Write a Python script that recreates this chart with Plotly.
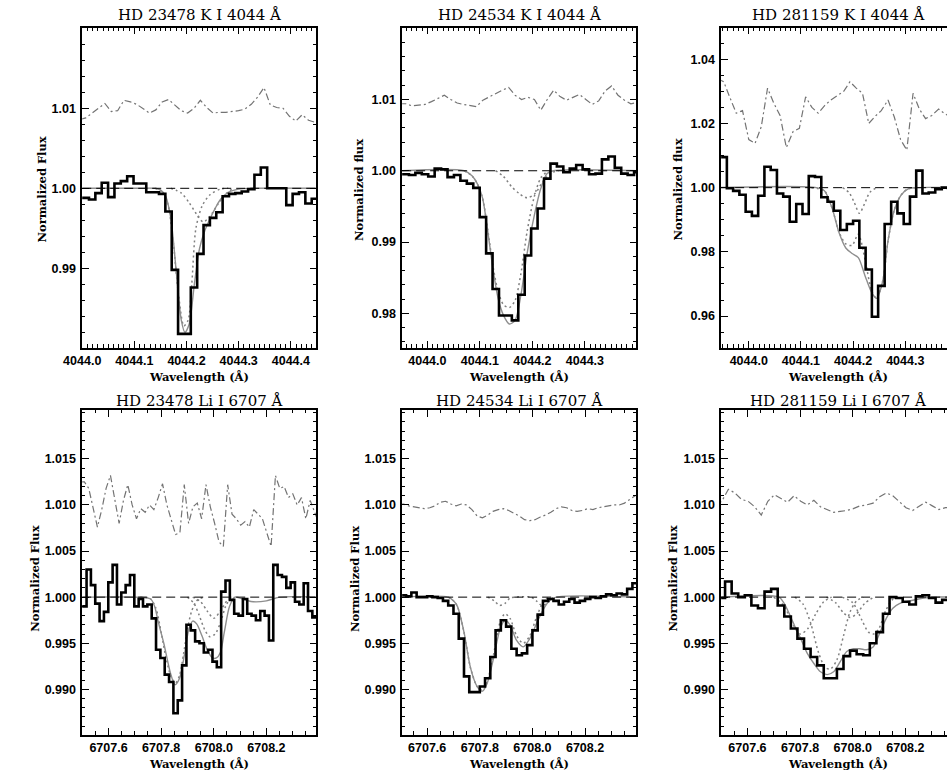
import plotly.graph_objects as go

W, H = 947, 771
CONTINUUM = 1.0

# ---------------- HD 23478, K I 4044 ----------------
P1_WAVE = [4043.9947, 4044.0069, 4044.0191, 4044.0313, 4044.0435, 4044.0557, 4044.0679, 4044.0801, 4044.0923, 4044.1045,
           4044.1167, 4044.1289, 4044.1411, 4044.1533, 4044.1655, 4044.1777, 4044.1899, 4044.2021, 4044.2143, 4044.2265,
           4044.2387, 4044.2509, 4044.2631, 4044.2753, 4044.2875, 4044.2997, 4044.3119, 4044.3241, 4044.3363, 4044.3485,
           4044.3607, 4044.3729, 4044.3851, 4044.3973, 4044.4095, 4044.4217, 4044.4339, 4044.4461, 4044.4583]
P1_FLUX = [0.9988, 0.9988, 0.9986, 0.9994, 1.0007, 0.9989, 1.0006, 1.0009, 1.0015, 1.0006,
           1.0006, 0.9995, 0.9995, 0.9993, 0.9971, 0.9898, 0.9818, 0.9818, 0.9876, 0.9918,
           0.9954, 0.9963, 0.9970, 0.9990, 0.9993, 0.9994, 0.9996, 0.9999, 1.0017, 1.0026,
           1.0000, 1.0000, 1.0000, 0.9979, 0.9993, 0.9995, 0.9981, 0.9987, 0.9987]
P1_RESID = [1.0086, 1.0088, 1.0094, 1.0100, 1.0106, 1.0096, 1.0097, 1.0110, 1.0108, 1.0105,
            1.0100, 1.0094, 1.0098, 1.0108, 1.0111, 1.0104, 1.0097, 1.0094, 1.0100, 1.0110,
            1.0101, 1.0094, 1.0095, 1.0095, 1.0096, 1.0097, 1.0099, 1.0105, 1.0114, 1.0126,
            1.0104, 1.0101, 1.0100, 1.0090, 1.0084, 1.0092, 1.0085, 1.0082, 1.0080]
P1_FIT_WAVE = [4044.00, 4044.10, 4044.14, 4044.15, 4044.16, 4044.17, 4044.18, 4044.19, 4044.197, 4044.205,
               4044.215, 4044.225, 4044.235, 4044.245, 4044.255, 4044.265, 4044.28, 4044.30, 4044.33, 4044.45]
P1_FIT = [1.0, 1.0, 1.0, 0.9998, 0.9990, 0.9962, 0.9898, 0.9835, 0.9820, 0.9830,
          0.9880, 0.9925, 0.9947, 0.9962, 0.9975, 0.9986, 0.9995, 0.9999, 1.0, 1.0]
P1_C1_WAVE = [4044.14, 4044.155, 4044.165, 4044.175, 4044.185, 4044.195, 4044.203, 4044.21, 4044.218, 4044.23,
              4044.245, 4044.265, 4044.28]
P1_C1 = [1.0, 0.9995, 0.9978, 0.9930, 0.9865, 0.9828, 0.9835, 0.9880, 0.9950, 0.9978, 0.9992, 0.9999, 1.0]
P1_C2_WAVE = [4044.17, 4044.19, 4044.205, 4044.219, 4044.232, 4044.245, 4044.26, 4044.275, 4044.29]
P1_C2 = [1.0, 0.9994, 0.9982, 0.9968, 0.9958, 0.9965, 0.9980, 0.9993, 1.0]

# ---------------- HD 24534, K I 4044 ----------------
P2_WAVE = [4043.9465, 4043.9588, 4043.9710, 4043.9833, 4043.9955, 4044.0078, 4044.0200, 4044.0323, 4044.0445, 4044.0568,
           4044.0690, 4044.0813, 4044.0935, 4044.1058, 4044.1180, 4044.1303, 4044.1425, 4044.1548, 4044.1670, 4044.1793,
           4044.1915, 4044.2038, 4044.2160, 4044.2283, 4044.2405, 4044.2528, 4044.2650, 4044.2773, 4044.2895, 4044.3018,
           4044.3140, 4044.3263, 4044.3385, 4044.3508, 4044.3630, 4044.3753, 4044.3875, 4044.3998, 4044.4120]
P2_FLUX = [0.9995, 0.9995, 0.9994, 0.9997, 0.9995, 0.9992, 1.0003, 1.0002, 0.9991, 0.9994,
           0.9986, 0.9982, 0.9976, 0.9935, 0.9884, 0.9834, 0.9797, 0.9797, 0.9790, 0.9826,
           0.9881, 0.9919, 0.9947, 0.9989, 1.0010, 1.0006, 0.9998, 1.0003, 1.0008, 1.0002,
           0.9995, 0.9996, 1.0016, 1.0020, 1.0004, 0.9996, 0.9994, 0.9998, 0.9998]
P2_RESID = [1.0094, 1.0094, 1.0091, 1.0092, 1.0093, 1.0097, 1.0102, 1.0106, 1.0100, 1.0095,
            1.0093, 1.0091, 1.0090, 1.0099, 1.0104, 1.0108, 1.0113, 1.0117, 1.0106, 1.0100,
            1.0103, 1.0100, 1.0085, 1.0100, 1.0113, 1.0104, 1.0099, 1.0103, 1.0107, 1.0100,
            1.0093, 1.0098, 1.0112, 1.0119, 1.0106, 1.0099, 1.0094, 1.0096, 1.0095]
P2_FIT_WAVE = [4043.95, 4044.07, 4044.085, 4044.095, 4044.105, 4044.115, 4044.125, 4044.135, 4044.145, 4044.156,
               4044.167, 4044.178, 4044.19, 4044.203, 4044.216, 4044.228, 4044.24, 4044.40]
P2_FIT = [1.0, 1.0, 0.9993, 0.9982, 0.9962, 0.9915, 0.9862, 0.9820, 0.9797, 0.9785,
          0.9790, 0.9825, 0.9884, 0.9935, 0.9975, 0.9996, 1.0, 1.0]
P2_C1_WAVE = [4044.07, 4044.085, 4044.095, 4044.105, 4044.115, 4044.125, 4044.135, 4044.145, 4044.156, 4044.167,
              4044.178, 4044.19, 4044.203, 4044.216, 4044.23]
P2_C1 = [1.0, 0.9993, 0.9982, 0.9962, 0.9917, 0.9866, 0.9830, 0.9812, 0.9808, 0.9818,
         0.9855, 0.9915, 0.9962, 0.9990, 1.0]
P2_C2_WAVE = [4044.13, 4044.145, 4044.16, 4044.175, 4044.19, 4044.205, 4044.22, 4044.235, 4044.25]
P2_C2 = [1.0, 0.9992, 0.9978, 0.9968, 0.9962, 0.9968, 0.9985, 0.9997, 1.0]

# ---------------- HD 281159, K I 4044 ----------------
P3_WAVE = [4043.940, 4043.952, 4043.964, 4043.976, 4043.988, 4044.000, 4044.012, 4044.024, 4044.036, 4044.048,
           4044.060, 4044.072, 4044.085, 4044.097, 4044.109, 4044.121, 4044.133, 4044.145, 4044.157, 4044.169,
           4044.182, 4044.194, 4044.206, 4044.218, 4044.230, 4044.242, 4044.254, 4044.267, 4044.279, 4044.291,
           4044.303, 4044.315, 4044.327, 4044.339, 4044.351, 4044.364, 4044.376, 4044.388]
P3_FLUX = [1.0095, 1.0095, 0.9998, 0.9990, 0.9978, 0.9925, 0.9912, 0.9975, 1.0065, 1.0055,
           0.9982, 0.9972, 0.9894, 0.9949, 0.9918, 1.0036, 1.0033, 0.9970, 0.9956, 0.9928,
           0.9868, 0.9887, 0.9897, 0.9813, 0.9745, 0.9598, 0.9694, 0.9887, 0.9956, 0.9920,
           0.9887, 0.9972, 1.0053, 0.9982, 0.9985, 0.9995, 1.0000, 0.9998]
P3_RESID = [1.0340, 1.0330, 1.0280, 1.0232, 1.0240, 1.0150, 1.0138, 1.0190, 1.0310, 1.0263,
            1.0225, 1.0125, 1.0175, 1.0185, 1.0283, 1.0250, 1.0232, 1.0255, 1.0273, 1.0285,
            1.0300, 1.0330, 1.0310, 1.0294, 1.0200, 1.0222, 1.0240, 1.0273, 1.0220, 1.0150,
            1.0117, 1.0294, 1.0245, 1.0215, 1.0225, 1.0245, 1.0230, 1.0220]
P3_FIT_WAVE = [4043.94, 4044.13, 4044.145, 4044.16, 4044.173, 4044.186, 4044.198, 4044.21, 4044.223, 4044.236,
               4044.245, 4044.257, 4044.267, 4044.279, 4044.292, 4044.304, 4044.32, 4044.40]
P3_FIT = [1.0, 1.0, 0.9990, 0.9935, 0.9860, 0.9812, 0.9795, 0.9782, 0.9725, 0.9672,
          0.9655, 0.9710, 0.9835, 0.9930, 0.9977, 0.9995, 1.0, 1.0]
P3_C1_WAVE = [4044.12, 4044.145, 4044.16, 4044.173, 4044.186, 4044.198, 4044.21, 4044.223, 4044.236, 4044.245,
              4044.257, 4044.267, 4044.279, 4044.292, 4044.304, 4044.32]
P3_C1 = [1.0, 0.9990, 0.9935, 0.9862, 0.9825, 0.9820, 0.9855, 0.9775, 0.9676, 0.9656,
         0.9710, 0.9835, 0.9930, 0.9977, 0.9995, 1.0]
P3_C2_WAVE = [4044.18, 4044.192, 4044.202, 4044.212, 4044.222, 4044.232, 4044.245]
P3_C2 = [1.0, 0.9985, 0.9955, 0.9920, 0.9950, 0.9985, 1.0]

# ---------------- HD 23478, Li I 6707 ----------------
P4_WAVE = [6707.4918, 6707.5083, 6707.5248, 6707.5413, 6707.5578, 6707.5743, 6707.5908, 6707.6073, 6707.6238, 6707.6403,
           6707.6568, 6707.6733, 6707.6898, 6707.7063, 6707.7228, 6707.7393, 6707.7558, 6707.7723, 6707.7888, 6707.8053,
           6707.8218, 6707.8383, 6707.8548, 6707.8713, 6707.8878, 6707.9043, 6707.9208, 6707.9373, 6707.9538, 6707.9703,
           6707.9868, 6708.0033, 6708.0198, 6708.0363, 6708.0528, 6708.0693, 6708.0858, 6708.1023, 6708.1188, 6708.1353,
           6708.1518, 6708.1683, 6708.1848, 6708.2013, 6708.2178, 6708.2343, 6708.2508, 6708.2673, 6708.2838, 6708.3003,
           6708.3168, 6708.3333, 6708.3498, 6708.3663, 6708.3828, 6708.3993, 6708.4158]
P4_FLUX = [0.9990, 0.9990, 1.0030, 1.0013, 0.9993, 0.9974, 0.9984, 1.0016, 1.0035, 0.9992,
           1.0005, 1.0013, 1.0024, 0.9990, 0.9998, 0.9990, 0.9992, 0.9977, 0.9943, 0.9934,
           0.9916, 0.9908, 0.9874, 0.9888, 0.9926, 0.9970, 0.9964, 0.9952, 0.9950, 0.9940,
           0.9943, 0.9930, 0.9924, 1.0006, 1.0018, 0.9997, 0.9982, 0.9980, 0.9998, 0.9982,
           0.9980, 0.9975, 0.9985, 0.9980, 0.9953, 1.0035, 1.0024, 1.0022, 1.0010, 1.0016,
           0.9995, 0.9992, 1.0015, 0.9985, 0.9978, 0.9978, 0.9978]
P4_RESID = [1.0125, 1.0125, 1.0118, 1.0095, 1.0076, 1.0095, 1.0118, 1.0132, 1.0105, 1.0080,
            1.0105, 1.0122, 1.0100, 1.0085, 1.0096, 1.0092, 1.0100, 1.0095, 1.0108, 1.0123,
            1.0100, 1.0085, 1.0068, 1.0070, 1.0122, 1.0080, 1.0098, 1.0102, 1.0085, 1.0122,
            1.0098, 1.0080, 1.0060, 1.0055, 1.0122, 1.0090, 1.0085, 1.0078, 1.0082, 1.0076,
            1.0095, 1.0090, 1.0085, 1.0070, 1.0055, 1.0132, 1.0118, 1.0120, 1.0108, 1.0112,
            1.0100, 1.0108, 1.0085, 1.0105, 1.0092, 1.0080, 1.0080]
P4_FIT_WAVE = [6707.50, 6707.70, 6707.76, 6707.775, 6707.79, 6707.81, 6707.835, 6707.8525, 6707.87, 6707.89,
               6707.905, 6707.92, 6707.935, 6707.955, 6707.975, 6707.995, 6708.01, 6708.025, 6708.04, 6708.06,
               6708.08, 6708.12, 6708.15, 6708.20, 6708.25, 6708.40]
P4_FIT = [1.0, 1.0, 0.9998, 0.9990, 0.9972, 0.9950, 0.9918, 0.9905, 0.9912, 0.9940,
          0.9965, 0.9974, 0.9971, 0.9958, 0.9943, 0.9934, 0.9934, 0.9940, 0.9962, 0.9990,
          1.0, 0.9997, 0.9995, 0.9996, 1.0, 1.0]
P4_C1_WAVE = [6707.72, 6707.76, 6707.78, 6707.80, 6707.82, 6707.84, 6707.855, 6707.87, 6707.885, 6707.90,
              6707.915, 6707.935, 6707.96]
P4_C1 = [1.0, 0.9998, 0.9988, 0.9962, 0.9932, 0.9912, 0.9907, 0.9915, 0.9938, 0.9965, 0.9984, 0.9996, 1.0]
P4_C2_WAVE = [6707.90, 6707.925, 6707.945, 6707.965, 6707.985, 6708.005, 6708.025, 6708.045, 6708.065]
P4_C2 = [1.0, 0.9993, 0.9980, 0.9965, 0.9957, 0.9960, 0.9972, 0.9990, 1.0]
P4_C3_WAVE = [6707.92, 6707.95, 6707.975, 6708.0, 6708.025, 6708.05, 6708.075]
P4_C3 = [1.0, 0.9995, 0.9985, 0.9977, 0.9985, 0.9996, 1.0]

# ---------------- HD 24534, Li I 6707 ----------------
P5_WAVE = [6707.49, 6707.51, 6707.53, 6707.55, 6707.57, 6707.59, 6707.61, 6707.63, 6707.65, 6707.67,
           6707.69, 6707.71, 6707.73, 6707.75, 6707.77, 6707.79, 6707.81, 6707.83, 6707.85, 6707.87,
           6707.89, 6707.91, 6707.93, 6707.95, 6707.97, 6707.99, 6708.01, 6708.03, 6708.05, 6708.07,
           6708.09, 6708.11, 6708.13, 6708.15, 6708.17, 6708.19, 6708.21, 6708.23, 6708.25, 6708.27,
           6708.29, 6708.31, 6708.33, 6708.35, 6708.37, 6708.39, 6708.41]
P5_FLUX = [1.0002, 1.0002, 1.0001, 1.0005, 1.0000, 1.0000, 1.0001, 1.0000, 0.9999, 0.9996,
           0.9991, 0.9982, 0.9955, 0.9914, 0.9897, 0.9897, 0.9903, 0.9912, 0.9935, 0.9964,
           0.9975, 0.9968, 0.9944, 0.9937, 0.9939, 0.9948, 0.9964, 0.9981, 0.9996, 0.9998,
           0.9996, 0.9992, 0.9995, 0.9998, 0.9994, 0.9996, 0.9998, 1.0000, 0.9999, 1.0001,
           1.0003, 1.0002, 1.0004, 1.0003, 1.0009, 1.0015, 1.0015]
P5_RESID = [1.0101, 1.0101, 1.0099, 1.0098, 1.0097, 1.0096, 1.0097, 1.0099, 1.0103, 1.0104,
            1.0101, 1.0099, 1.0101, 1.0100, 1.0095, 1.0088, 1.0086, 1.0089, 1.0093, 1.0095,
            1.0096, 1.0094, 1.0091, 1.0088, 1.0084, 1.0083, 1.0084, 1.0087, 1.0089, 1.0092,
            1.0096, 1.0098, 1.0097, 1.0094, 1.0093, 1.0094, 1.0096, 1.0095, 1.0097, 1.0098,
            1.0099, 1.0100, 1.0100, 1.0102, 1.0106, 1.0110, 1.0112]
P5_FIT_WAVE = [6707.50, 6707.68, 6707.70, 6707.715, 6707.74, 6707.765, 6707.79, 6707.81, 6707.8275, 6707.8525,
               6707.8775, 6707.896, 6707.915, 6707.94, 6707.965, 6707.99, 6708.015, 6708.04, 6708.065, 6708.09,
               6708.40]
P5_FIT = [1.0, 1.0, 0.9996, 0.9990, 0.9962, 0.9923, 0.9903, 0.9898, 0.9906, 0.9934,
          0.9966, 0.9975, 0.9970, 0.9953, 0.9946, 0.9955, 0.9971, 0.9986, 0.9996, 1.0,
          1.0]
P5_C1_WAVE = [6707.68, 6707.70, 6707.715, 6707.74, 6707.765, 6707.79, 6707.81, 6707.8275, 6707.8525, 6707.8775,
              6707.896, 6707.915, 6707.94, 6707.965, 6707.99, 6708.015, 6708.04, 6708.06]
P5_C1 = [1.0, 0.9996, 0.9990, 0.9962, 0.9923, 0.9903, 0.9899, 0.9908, 0.9938, 0.9973,
         0.9982, 0.9977, 0.9958, 0.9950, 0.9958, 0.9978, 0.9994, 1.0]
P5_C2_WAVE = [6707.83, 6707.855, 6707.875, 6707.895, 6707.915, 6707.935, 6707.995, 6708.015, 6708.035, 6708.055,
              6708.075, 6708.09]
P5_C2 = [1.0, 0.9996, 0.9991, 0.9993, 0.9999, 1.0, 1.0, 0.9996, 0.9991, 0.9993, 0.9999, 1.0]

# ---------------- HD 281159, Li I 6707 ----------------
P6_WAVE = [6707.4775, 6707.5025, 6707.5275, 6707.5525, 6707.5775, 6707.6025, 6707.6275, 6707.6525, 6707.6775, 6707.7025,
           6707.7275, 6707.7525, 6707.7775, 6707.8025, 6707.8275, 6707.8525, 6707.8775, 6707.9025, 6707.9275, 6707.9525,
           6707.9775, 6708.0025, 6708.0275, 6708.0525, 6708.0775, 6708.1025, 6708.1275, 6708.1525, 6708.1775, 6708.2025,
           6708.2275, 6708.2525, 6708.2775, 6708.3025, 6708.3275, 6708.3525, 6708.3775]
P6_FLUX = [0.9999, 0.9999, 1.0017, 1.0004, 1.0000, 1.0002, 0.9991, 0.9988, 1.0006, 1.0009,
           0.9991, 0.9979, 0.9966, 0.9955, 0.9944, 0.9935, 0.9926, 0.9912, 0.9912, 0.9922,
           0.9936, 0.9942, 0.9938, 0.9937, 0.9950, 0.9962, 0.9982, 1.0000, 0.9999, 0.9995,
           0.9992, 1.0001, 1.0002, 0.9999, 0.9994, 0.9997, 0.9997]
P6_RESID = [1.0100, 1.0104, 1.0117, 1.0113, 1.0106, 1.0104, 1.0098, 1.0089, 1.0104, 1.0111,
            1.0107, 1.0103, 1.0110, 1.0104, 1.0100, 1.0105, 1.0098, 1.0095, 1.0092, 1.0093,
            1.0094, 1.0096, 1.0099, 1.0100, 1.0102, 1.0109, 1.0113, 1.0110, 1.0104, 1.0097,
            1.0094, 1.0099, 1.0103, 1.0099, 1.0095, 1.0097, 1.0097]
P6_FIT_WAVE = [6707.50, 6707.72, 6707.74, 6707.7525, 6707.7775, 6707.8025, 6707.8275, 6707.8525, 6707.8775, 6707.9025,
               6707.9275, 6707.9525, 6707.9775, 6708.0025, 6708.0275, 6708.0525, 6708.0775, 6708.1025, 6708.1275, 6708.1525,
               6708.1775, 6708.2025, 6708.25, 6708.30, 6708.40]
P6_FIT = [1.0, 1.0, 0.9993, 0.9986, 0.9970, 0.9955, 0.9939, 0.9928, 0.9919, 0.9916,
          0.9919, 0.9930, 0.9941, 0.9944, 0.9944, 0.9943, 0.9946, 0.9961, 0.9977, 0.9988,
          0.9993, 0.9995, 0.9998, 1.0, 1.0]
P6_C1_WAVE = [6707.70, 6707.74, 6707.77, 6707.80, 6707.83, 6707.86, 6707.89, 6707.92]
P6_C1 = [1.0, 0.9990, 0.9972, 0.9960, 0.9966, 0.9982, 0.9995, 1.0]
P6_C2_WAVE = [6707.78, 6707.81, 6707.84, 6707.87, 6707.895, 6707.915, 6707.94, 6707.965, 6707.99, 6708.015, 6708.04]
P6_C2 = [1.0, 0.9993, 0.9972, 0.9940, 0.9924, 0.9922, 0.9932, 0.9958, 0.9984, 0.9996, 1.0]
P6_C3_WAVE = [6707.90, 6707.935, 6707.965, 6707.99, 6708.015, 6708.045, 6708.08]
P6_C3 = [1.0, 0.9994, 0.9983, 0.9978, 0.9982, 0.9993, 1.0]
P6_C4_WAVE = [6707.96, 6708.0, 6708.035, 6708.06, 6708.08, 6708.10, 6708.125, 6708.15, 6708.17]
P6_C4 = [1.0, 0.9994, 0.9975, 0.9962, 0.9960, 0.9966, 0.9985, 0.9997, 1.0]

TITLES = ["HD 23478 K I 4044 Å", "HD 24534 K I 4044 Å", "HD 281159 K I 4044 Å",
          "HD 23478 Li I 6707 Å", "HD 24534 Li I 6707 Å", "HD 281159 Li I 6707 Å"]
YLABELS = ["Normalized Flux", "Normalized flux", "Normalized flux",
           "Normalized Flux", "Normalized Flux", "Normalized Flux"]
XLABEL = "Wavelength (Å)"

# axis limits of the full (uncropped) panels
X_RANGES = [[4044.0, 4044.449], [4043.952, 4044.398], [4043.947, 4044.396],
            [6707.5, 6708.39], [6707.505, 6708.395], [6707.5, 6708.39]]
Y_RANGES = [[0.9801, 1.0201], [0.9752, 1.0201], [0.9502, 1.0499],
            [0.9851, 1.0203], [0.9851, 1.0203], [0.9851, 1.0203]]

K_TICKS = [4044.0, 4044.1, 4044.2, 4044.3, 4044.4]
LI_TICKS = [6707.6, 6707.8, 6708.0, 6708.2]
X_TICKS = [K_TICKS, K_TICKS[:4], K_TICKS[:4], LI_TICKS, LI_TICKS, LI_TICKS]
LI_FLUX_TICKS = [0.990, 0.995, 1.000, 1.005, 1.010, 1.015]
Y_TICKS = [[0.99, 1.00, 1.01], [0.98, 0.99, 1.00, 1.01], [0.96, 0.98, 1.00, 1.02, 1.04],
           LI_FLUX_TICKS, LI_FLUX_TICKS, LI_FLUX_TICKS]

PANELS = [
    dict(wave=P1_WAVE, flux=P1_FLUX, resid=P1_RESID, fit=(P1_FIT_WAVE, P1_FIT),
         comps=[(P1_C1_WAVE, P1_C1), (P1_C2_WAVE, P1_C2)]),
    dict(wave=P2_WAVE, flux=P2_FLUX, resid=P2_RESID, fit=(P2_FIT_WAVE, P2_FIT),
         comps=[(P2_C1_WAVE, P2_C1), (P2_C2_WAVE, P2_C2)]),
    dict(wave=P3_WAVE, flux=P3_FLUX, resid=P3_RESID, fit=(P3_FIT_WAVE, P3_FIT),
         comps=[(P3_C1_WAVE, P3_C1), (P3_C2_WAVE, P3_C2)]),
    dict(wave=P4_WAVE, flux=P4_FLUX, resid=P4_RESID, fit=(P4_FIT_WAVE, P4_FIT),
         comps=[(P4_C1_WAVE, P4_C1), (P4_C2_WAVE, P4_C2), (P4_C3_WAVE, P4_C3)]),
    dict(wave=P5_WAVE, flux=P5_FLUX, resid=P5_RESID, fit=(P5_FIT_WAVE, P5_FIT),
         comps=[(P5_C1_WAVE, P5_C1), (P5_C2_WAVE, P5_C2)]),
    dict(wave=P6_WAVE, flux=P6_FLUX, resid=P6_RESID, fit=(P6_FIT_WAVE, P6_FIT),
         comps=[(P6_C1_WAVE, P6_C1), (P6_C2_WAVE, P6_C2), (P6_C3_WAVE, P6_C3), (P6_C4_WAVE, P6_C4)]),
]

# frame boxes in pixels: left/right per column, top/bottom per row
COL_X = [(64.5, 303.5), (391, 630), (716.5, 955.5)]
ROW_Y = [(27.5, 347.5), (410, 734.5)]

TICK_FONT = dict(family="Liberation Sans", size=12.5, color="black", weight="bold")
TITLE_FONT = dict(family="DejaVu Serif", size=15, color="black")
LABEL_FONT = dict(family="DejaVu Serif", size=11.5, color="black", weight="bold")

GRAY_FIT = "#8e8e8e"
GRAY_COMP = "#808080"
GRAY_RESID = "#737373"

fig = go.Figure()
annotations = []
shapes = []

for i, p in enumerate(PANELS):
    n = i + 1
    row, col = divmod(i, 3)
    left, right = COL_X[col]
    top, bottom = ROW_Y[row]
    x0, x1 = X_RANGES[i]
    vis = (min(right, W) - left) / (right - left)
    x1_vis = x0 + (x1 - x0) * vis
    sfx = "" if n == 1 else str(n)
    xa, ya = "x" + sfx, "y" + sfx

    fig.add_trace(go.Scatter(x=p["wave"], y=p["resid"], mode="lines", xaxis=xa, yaxis=ya,
                             line=dict(color=GRAY_RESID, width=1.2, dash="7px,3px,2px,3px")))
    for cw, cf in p["comps"]:
        fig.add_trace(go.Scatter(x=cw, y=cf, mode="lines", xaxis=xa, yaxis=ya,
                                 line=dict(color=GRAY_COMP, width=1.5, dash="2px,3px",
                                           shape="spline", smoothing=0.8)))
    fw, ff = p["fit"]
    fig.add_trace(go.Scatter(x=fw, y=ff, mode="lines", xaxis=xa, yaxis=ya,
                             line=dict(color=GRAY_FIT, width=1.4, shape="spline", smoothing=0.8)))
    fig.add_trace(go.Scatter(x=p["wave"], y=p["flux"], mode="lines", xaxis=xa, yaxis=ya,
                             line=dict(color="black", width=2.6, shape="hvh")))

    shapes.append(dict(type="line", xref=f"{xa} domain", yref=ya, x0=0, x1=1,
                       y0=CONTINUUM, y1=CONTINUUM, layer="above",
                       line=dict(color="black", width=1, dash="9px,5px")))

    top_row = row == 0
    xaxis = dict(domain=[left / W, min(right, W) / W], range=[x0, x1_vis], anchor=ya,
                 showline=True, linecolor="black", linewidth=1.5, mirror="allticks",
                 ticks="inside", ticklen=7, tickwidth=1.2, tickcolor="black",
                 tickmode="array", tickvals=X_TICKS[i], tickformat=".1f", tickfont=TICK_FONT,
                 ticklabelstandoff=1,
                 minor=dict(ticks="inside", ticklen=3.5, tickwidth=1, tickcolor="black",
                            tick0=4044.0 if top_row else 6707.6,
                            dtick=0.01 if top_row else 0.05, showgrid=False),
                 showgrid=False, zeroline=False, fixedrange=True)
    if i < 2:
        ymin, yfmt = 0.002, ".2f"
    elif i == 2:
        ymin, yfmt = 0.005, ".2f"
    else:
        ymin, yfmt = 0.001, ".3f"
    yaxis = dict(domain=[1 - bottom / H, 1 - top / H], range=Y_RANGES[i], anchor=xa,
                 showline=True, linecolor="black", linewidth=1.5,
                 mirror=("allticks" if right <= W else False),
                 ticks="inside", ticklen=7, tickwidth=1.2, tickcolor="black",
                 tickmode="array", tickvals=Y_TICKS[i], tickformat=yfmt, tickfont=TICK_FONT,
                 ticklabelstandoff=2,
                 minor=dict(ticks="inside", ticklen=3.5, tickwidth=1, tickcolor="black",
                            tick0=1.0, dtick=ymin, showgrid=False),
                 showgrid=False, zeroline=False, fixedrange=True)
    fig.layout["xaxis" + sfx] = xaxis
    fig.layout["yaxis" + sfx] = yaxis

    cx = (left + right) / 2
    title_y = 15 if top_row else 401
    annotations.append(dict(text=TITLES[i], x=cx / W, y=1 - title_y / H, xref="paper", yref="paper",
                            showarrow=False, xanchor="center", yanchor="middle", font=TITLE_FONT))
    annotations.append(dict(text=XLABEL, x=cx / W, y=1 - (bottom + 29.5) / H, xref="paper", yref="paper",
                            showarrow=False, xanchor="center", yanchor="middle", font=LABEL_FONT))
    ylab_x = [23, 347, 672, 16, 343, 667][i]
    ylab_y = 190 if top_row else 579
    annotations.append(dict(text=YLABELS[i], x=ylab_x / W, y=1 - ylab_y / H, xref="paper", yref="paper",
                            showarrow=False, xanchor="center", yanchor="middle", textangle=-90,
                            font=LABEL_FONT))

fig.update_layout(width=W, height=H, margin=dict(l=0, r=0, t=0, b=0),
                  paper_bgcolor="white", plot_bgcolor="white", showlegend=False,
                  annotations=annotations, shapes=shapes)

fig.write_html("out.html")
